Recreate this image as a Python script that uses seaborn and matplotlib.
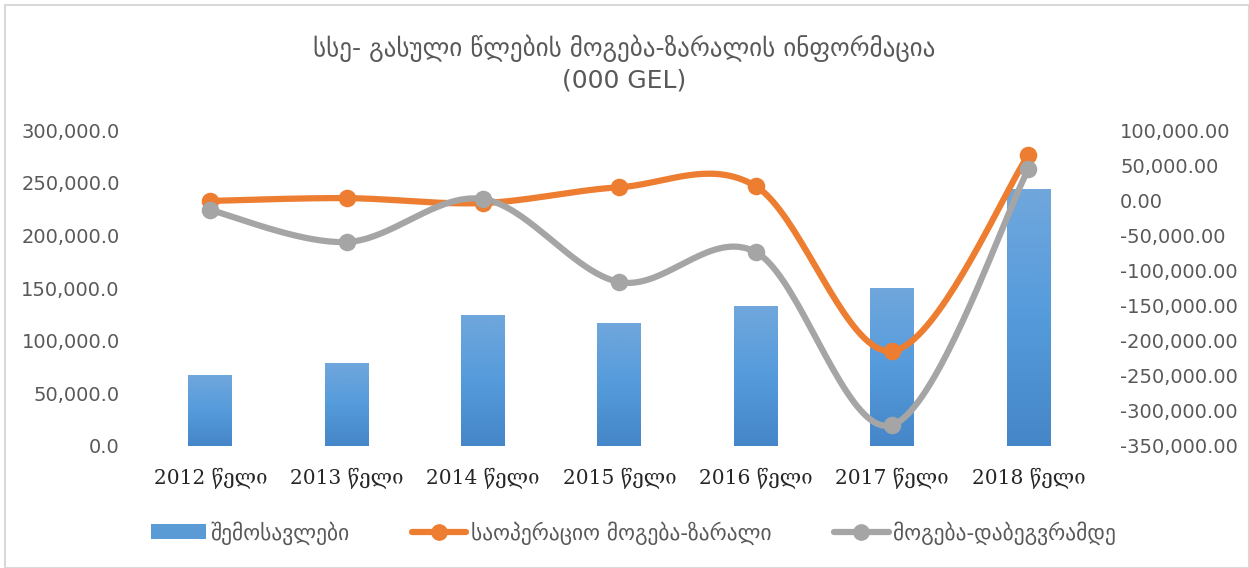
import matplotlib
matplotlib.use("Agg")
import matplotlib.pyplot as plt
import numpy as np
import pandas as pd
import seaborn as sns
from matplotlib.colors import LinearSegmentedColormap
from matplotlib.lines import Line2D
from matplotlib.patches import Patch, Rectangle
from matplotlib.ticker import FuncFormatter

years = ["2012 წელი", "2013 წელი", "2014 წელი", "2015 წელი", "2016 წელი", "2017 წელი", "2018 წელი"]
revenue = [67400, 78800, 124400, 116800, 132900, 150000, 244000]
operating_profit = [-1000, 3000, -4000, 18500, 20000, -214800, 64400]
pretax_profit = [-14000, -59500, 1700, -116500, -73800, -320200, 44400]

title = "სსე- გასული წლების მოგება-ზარალის ინფორმაცია\n(000 GEL)"
label_revenue = "შემოსავლები"
label_operating = "საოპერაციო მოგება-ზარალი"
label_pretax = "მოგება-დაბეგვრამდე"

BLUE = "#5B9BD5"
ORANGE = "#ED7D31"
GRAY = "#A5A5A5"
TEXT = "#595959"


def smooth(y, steps=40):
    # Excel-like smoothed line: Catmull-Rom style cubic Bezier between points
    pts = np.column_stack([np.arange(len(y)), np.asarray(y, dtype=float)])
    padded = np.vstack([pts[0], pts, pts[-1]])
    t = np.linspace(0, 1, steps)[:, None]
    out = []
    for i in range(len(pts) - 1):
        p0, p1, p2, p3 = padded[i], padded[i + 1], padded[i + 2], padded[i + 3]
        c1 = p1 + (p2 - p0) / 6
        c2 = p2 - (p3 - p1) / 6
        seg = ((1 - t) ** 3) * p1 + 3 * ((1 - t) ** 2) * t * c1 + 3 * (1 - t) * t ** 2 * c2 + t ** 3 * p2
        out.append(seg if i == 0 else seg[1:])
    out = np.vstack(out)
    return out[:, 0], out[:, 1]


sns.set_theme(style="white")
plt.rcParams["font.family"] = ["DejaVu Sans"]

fig = plt.figure(figsize=(12.49, 5.68), dpi=100)
ax = fig.add_axes([0.1137, 0.2148, 0.7643, 0.5563])

df = pd.DataFrame({"year": years, "revenue": revenue})
sns.barplot(data=df, x="year", y="revenue", color=BLUE, width=0.32, linewidth=0, ax=ax)

# vertical gradient in each bar
cmap = LinearSegmentedColormap.from_list("bar", ["#4586C8", "#559BDC", "#70A7DC"])
grad = np.linspace(0, 1, 256)[:, None]
for p in ax.patches:
    x0, y0 = p.get_x(), p.get_y()
    w, h = p.get_width(), p.get_height()
    im = ax.imshow(grad, cmap=cmap, origin="lower", aspect="auto",
                   extent=[x0, x0 + w, y0, y0 + h], zorder=p.get_zorder())
    im.set_clip_path(p)
    p.set_facecolor("none")

ax.set_xlim(-0.5, len(years) - 0.5)
ax.set_ylim(0, 300000)
ax.set_yticks(np.arange(0, 300001, 50000))
ax.yaxis.set_major_formatter(FuncFormatter(lambda v, _: f"{v:,.1f}"))
ax.set_xlabel("")
ax.set_ylabel("")
ax.tick_params(axis="y", labelsize=14, colors=TEXT, length=0, pad=16)
ax.tick_params(axis="x", length=0, pad=16)
for lab in ax.get_xticklabels():
    lab.set_family(["DejaVu Serif", "DejaVu Sans"])
    lab.set_fontsize(14.5)
    lab.set_color("#262626")
for s in ax.spines.values():
    s.set_visible(False)

ax2 = ax.twinx()
for vals, col in [(operating_profit, ORANGE), (pretax_profit, GRAY)]:
    xs, ys = smooth(vals)
    sns.lineplot(x=xs, y=ys, sort=False, estimator=None, color=col, linewidth=4.5, ax=ax2)
    sns.scatterplot(x=np.arange(len(vals)), y=vals, color=col, s=160, linewidth=0, ax=ax2, zorder=5)
ax2.set_ylim(-350000, 100000)
ax2.set_yticks(np.arange(-350000, 100001, 50000))
ax2.yaxis.set_major_formatter(FuncFormatter(lambda v, _: f"{v:,.2f}"))
ax2.tick_params(axis="y", labelsize=14, colors=TEXT, length=0, pad=17)
for s in ax2.spines.values():
    s.set_visible(False)
ax2.set_xlim(-0.5, len(years) - 0.5)

fig.text(0.5, 0.888, title, ha="center", va="center", fontsize=18, color=TEXT, linespacing=1.3)

handles = [
    Patch(facecolor=BLUE, edgecolor="none"),
    Line2D([0], [0], color=ORANGE, lw=4.5, marker="o", markersize=11),
    Line2D([0], [0], color=GRAY, lw=4.5, marker="o", markersize=11),
]
fig.legend(handles, [label_revenue, label_operating, label_pretax], loc="center",
           bbox_to_anchor=(0.507, 0.062), ncol=3, frameon=False, fontsize=15.5,
           labelcolor=TEXT, handlelength=2.55, columnspacing=2.9, handletextpad=0.2)

fig.patches.append(Rectangle((0.004, 0.0), 0.996, 0.992, transform=fig.transFigure,
                             fill=False, edgecolor="#D9D9D9", linewidth=1.5))

fig.savefig("out.png", dpi=100)
